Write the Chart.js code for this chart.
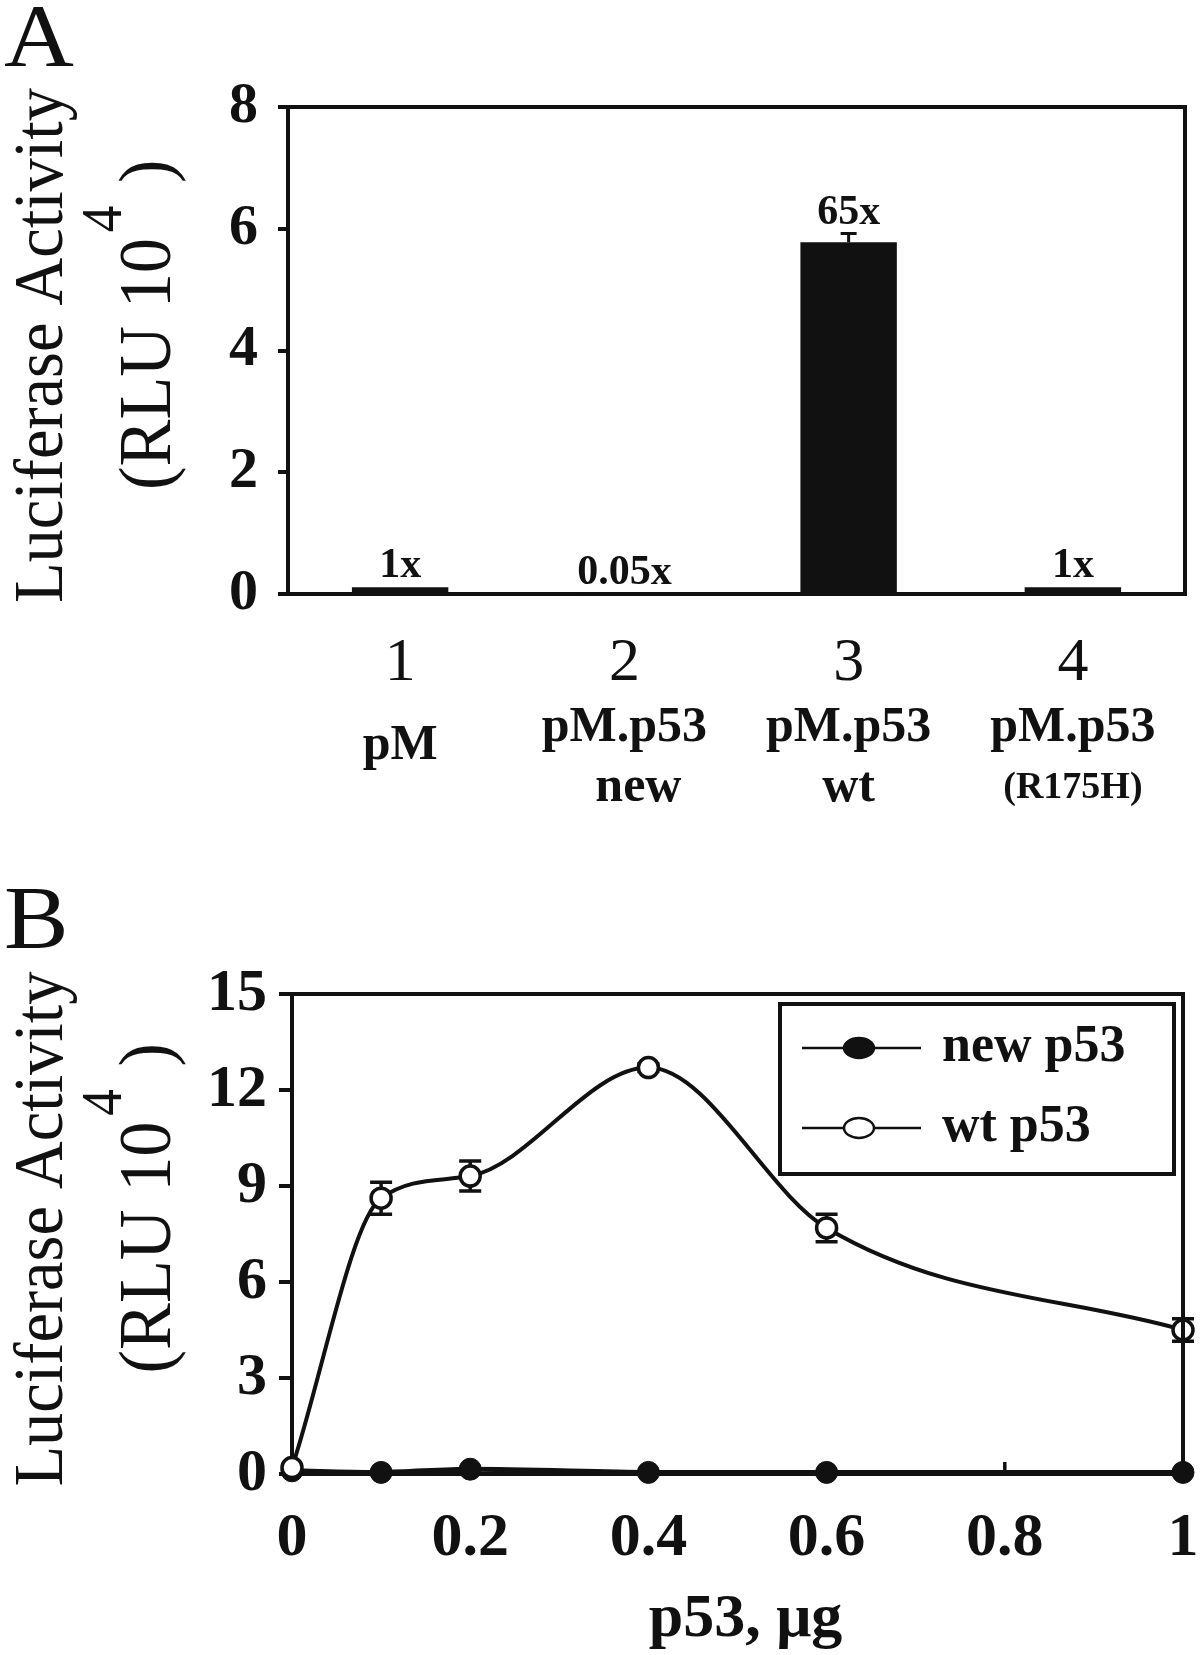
<!DOCTYPE html>
<html>
<head>
<meta charset="utf-8">
<script src="https://cdn.jsdelivr.net/npm/chart.js@4.4.1/dist/chart.umd.min.js"></script>
<style>
  body { margin: 0; background: #fff; width: 1200px; height: 1655px; position: relative; overflow: hidden; }
  .panel-letter { position: absolute; left: 4px; font-family: 'Liberation Serif', serif; font-size: 88px; line-height: 1; color: #111; transform: scaleX(1.1); transform-origin: left top; }
  #wrapA { position: absolute; left: 0; top: 0; width: 1200px; height: 830px; }
  #wrapB { position: absolute; left: 0; top: 830px; width: 1200px; height: 825px; }
</style>
</head>
<body>
<div id="wrapA"><canvas id="chartA" width="1200" height="830"></canvas></div>
<div id="wrapB"><canvas id="chartB" width="1200" height="825"></canvas></div>
<div class="panel-letter" style="top:-8px">A</div>
<div class="panel-letter" style="top:874px">B</div>

<script>
// Panel A data
const lanes = ['1', '2', '3', '4'];
const laneNames = [['pM'], ['pM.p53', 'new'], ['pM.p53', 'wt'], ['pM.p53', '(R175H)']];
const activity = [0.11, 0.0045, 5.78, 0.11];
const activityErr = [0, 0, 0.14, 0];
const foldChange = ['1x', '0.05x', '65x', '1x'];
const ticksA = [0, 2, 4, 6, 8];

// Panel B data
const doses = [0, 0.1, 0.2, 0.4, 0.6, 1];
const newP53 = [0.1, 0.05, 0.15, 0.05, 0.05, 0.05];
const wtP53 = [0.2, 8.62, 9.31, 12.7, 7.69, 4.5];
const wtErr = [0, 0.5, 0.47, 0.12, 0.43, 0.35];
const ticksBY = [0, 3, 6, 9, 12, 15];
const ticksBX = [0, 0.2, 0.4, 0.6, 0.8, 1];
const seriesNames = ['new p53', 'wt p53'];

const SERIF = "'Liberation Serif', 'Times New Roman', serif";
const INK = '#111';

// rotated two-line y title with the superscript 4
function drawYTitle(ctx, cy) {
  ctx.save();
  ctx.fillStyle = INK;
  ctx.translate(0, cy);
  ctx.rotate(-Math.PI / 2);
  ctx.scale(0.95, 1);
  ctx.textBaseline = 'alphabetic';
  ctx.textAlign = 'center';
  ctx.font = '70px ' + SERIF;
  ctx.fillText('Luciferase Activity', 0, 62);
  ctx.textAlign = 'left';
  ctx.font = '74px ' + SERIF;
  const a = '(RLU 10';
  const wa = ctx.measureText(a).width;
  const x0 = -152;
  ctx.fillText(a, x0, 170);
  ctx.font = '56px ' + SERIF;
  const w4 = ctx.measureText('4').width;
  ctx.fillText('4', x0 + wa + 6, 121);
  ctx.font = '74px ' + SERIF;
  ctx.fillText(')', x0 + wa + w4 + 30, 170);
  ctx.restore();
}

function frameTopRight(ctx, area) {
  ctx.save();
  ctx.strokeStyle = INK;
  ctx.lineWidth = 4;
  ctx.beginPath();
  ctx.moveTo(area.left - 2, area.top);
  ctx.lineTo(area.right, area.top);
  ctx.lineTo(area.right, area.bottom + 2);
  ctx.stroke();
  ctx.restore();
}

const panelAExtras = {
  id: 'panelAExtras',
  afterDatasetsDraw(chart) {
    const { ctx, chartArea, scales: { x, y } } = chart;
    frameTopRight(ctx, chartArea);
    ctx.save();
    ctx.strokeStyle = INK;
    ctx.fillStyle = INK;
    ctx.lineWidth = 3;
    activity.forEach((v, i) => {
      const cx = x.getPixelForValue(i);
      const err = activityErr[i];
      if (err > 0) {
        const yt = y.getPixelForValue(v + err);
        ctx.beginPath();
        ctx.moveTo(cx, y.getPixelForValue(v));
        ctx.lineTo(cx, yt);
        ctx.moveTo(cx - 8, yt);
        ctx.lineTo(cx + 8, yt);
        ctx.stroke();
      }
      // fold change above bar
      ctx.font = 'bold 42px ' + SERIF;
      ctx.textAlign = 'center';
      ctx.textBaseline = 'alphabetic';
      ctx.fillText(foldChange[i], cx, y.getPixelForValue(v + err) - 10);
      // lane names under the numbers
      const names = laneNames[i];
      ctx.textBaseline = 'middle';
      ctx.font = 'bold 50px ' + SERIF;
      if (names.length === 1) {
        ctx.fillText(names[0], cx, chartArea.bottom + 152);
      } else {
        ctx.fillText(names[0], cx, chartArea.bottom + 134);
        ctx.font = (names[1].startsWith('(') ? 'bold 38px ' : 'bold 50px ') + SERIF;
        ctx.fillText(names[1], cx + (i === 1 ? 14 : 0), chartArea.bottom + 194);
      }
    });
    ctx.restore();
    drawYTitle(ctx, (chartArea.top + chartArea.bottom) / 2 - 5);
  }
};

new Chart(document.getElementById('chartA'), {
  type: 'bar',
  data: {
    labels: lanes,
    datasets: [{
      data: activity,
      backgroundColor: INK,
      borderWidth: 0,
      barPercentage: 0.43,
      categoryPercentage: 1
    }]
  },
  options: {
    responsive: false,
    animation: false,
    devicePixelRatio: 1,
    layout: { padding: { left: 0, top: 107, right: 15, bottom: 0 } },
    plugins: { legend: { display: false }, tooltip: { enabled: false } },
    scales: {
      x: {
        grid: { display: false, drawTicks: false },
        border: { display: true, width: 4, color: INK },
        ticks: { color: INK, font: { family: SERIF, size: 62 }, padding: 33 },
        afterFit(scale) { scale.height = 236; scale.paddingLeft = 0; scale.paddingRight = 0; }
      },
      y: {
        min: 0,
        max: 8,
        afterBuildTicks(scale) { scale.ticks = ticksA.map(v => ({ value: v })); },
        grid: { drawOnChartArea: false, drawTicks: true, tickLength: 10, lineWidth: 4, color: INK },
        border: { display: true, width: 4, color: INK },
        ticks: { color: INK, font: { family: SERIF, size: 58, weight: 'bold' }, padding: 20 },
        afterFit(scale) { scale.width = 288; }
      }
    }
  },
  plugins: [panelAExtras]
});

const panelBExtras = {
  id: 'panelBExtras',
  beforeDatasetsDraw(chart) {
    const { ctx, chartArea, scales: { x, y } } = chart;
    ctx.save();
    ctx.strokeStyle = INK;
    ctx.lineWidth = 3.5;
    // inward ticks on the x axis
    ticksBX.forEach(t => {
      const px = x.getPixelForValue(t);
      ctx.beginPath();
      ctx.moveTo(px, chartArea.bottom);
      ctx.lineTo(px, chartArea.bottom - 12);
      ctx.stroke();
    });
    // error bars of wt p53
    wtP53.forEach((v, i) => {
      const e = wtErr[i];
      if (!e) return;
      const px = x.getPixelForValue(doses[i]);
      const y1 = y.getPixelForValue(v + e), y2 = y.getPixelForValue(v - e);
      ctx.beginPath();
      ctx.moveTo(px, y1); ctx.lineTo(px, y2);
      ctx.moveTo(px - 11, y1); ctx.lineTo(px + 11, y1);
      ctx.moveTo(px - 11, y2); ctx.lineTo(px + 11, y2);
      ctx.stroke();
    });
    ctx.restore();
  },
  afterDatasetsDraw(chart) {
    const { ctx, chartArea } = chart;
    frameTopRight(ctx, chartArea);
    // legend box
    const bx = 780, by = chartArea.top + 10, bw = 394, bh = 170;
    ctx.save();
    ctx.strokeStyle = INK;
    ctx.lineWidth = 4;
    ctx.fillStyle = '#fff';
    ctx.fillRect(bx, by, bw, bh);
    ctx.strokeRect(bx, by, bw, bh);
    const rows = [chartArea.top + 54, chartArea.top + 134];
    rows.forEach((ry, i) => {
      ctx.lineWidth = 2.5;
      ctx.beginPath();
      ctx.moveTo(bx + 22, ry);
      ctx.lineTo(bx + 141, ry);
      ctx.stroke();
      ctx.beginPath();
      ctx.ellipse(bx + 79, ry, 15, 10, 0, 0, Math.PI * 2);
      ctx.fillStyle = i === 0 ? INK : '#fff';
      ctx.fill();
      ctx.stroke();
      ctx.fillStyle = INK;
      ctx.font = 'bold 52px ' + SERIF;
      ctx.textAlign = 'left';
      ctx.textBaseline = 'middle';
      ctx.fillText(seriesNames[i], bx + 162, ry);
    });
    // x title
    ctx.font = 'bold 62px ' + SERIF;
    ctx.textAlign = 'center';
    ctx.textBaseline = 'middle';
    ctx.fillText('p53, \u03bcg', (chartArea.left + chartArea.right) / 2 + 8, 790);
    ctx.restore();
    drawYTitle(ctx, (chartArea.top + chartArea.bottom) / 2 - 5);
  }
};

new Chart(document.getElementById('chartB'), {
  type: 'line',
  data: {
    datasets: [
      {
        label: seriesNames[1],
        data: doses.map((d, i) => ({ x: d, y: wtP53[i] })),
        borderColor: INK,
        borderWidth: 4,
        pointRadius: 10,
        pointBackgroundColor: '#fff',
        pointBorderColor: INK,
        pointBorderWidth: 3.5,
        cubicInterpolationMode: 'monotone',
        clip: false,
        order: 0
      },
      {
        label: seriesNames[0],
        data: doses.map((d, i) => ({ x: d, y: newP53[i] })),
        borderColor: INK,
        borderWidth: 5,
        pointRadius: 11,
        pointBackgroundColor: INK,
        pointBorderColor: INK,
        pointBorderWidth: 1,
        tension: 0.3,
        clip: false,
        order: 1
      }
    ]
  },
  options: {
    responsive: false,
    animation: false,
    devicePixelRatio: 1,
    layout: { padding: { left: 0, top: 164, right: 17, bottom: 0 } },
    plugins: { legend: { display: false }, tooltip: { enabled: false } },
    scales: {
      x: {
        type: 'linear',
        min: 0,
        max: 1,
        afterBuildTicks(scale) { scale.ticks = ticksBX.map(v => ({ value: v })); },
        grid: { display: false, drawTicks: false },
        border: { display: true, width: 4, color: INK },
        ticks: { color: INK, font: { family: SERIF, size: 62, weight: 'bold' }, padding: 28, callback: v => String(v) },
        afterFit(scale) { scale.height = 181; scale.paddingLeft = 0; scale.paddingRight = 0; }
      },
      y: {
        min: 0,
        max: 15,
        afterBuildTicks(scale) { scale.ticks = ticksBY.map(v => ({ value: v })); },
        grid: { drawOnChartArea: false, drawTicks: true, tickLength: 13, lineWidth: 4, color: INK },
        border: { display: true, width: 4, color: INK },
        ticks: { color: INK, font: { family: SERIF, size: 60, weight: 'bold' }, padding: 12 },
        afterFit(scale) { scale.width = 292; scale.paddingTop = 0; scale.paddingBottom = 0; }
      }
    }
  },
  plugins: [panelBExtras]
});
</script>
</body>
</html>
